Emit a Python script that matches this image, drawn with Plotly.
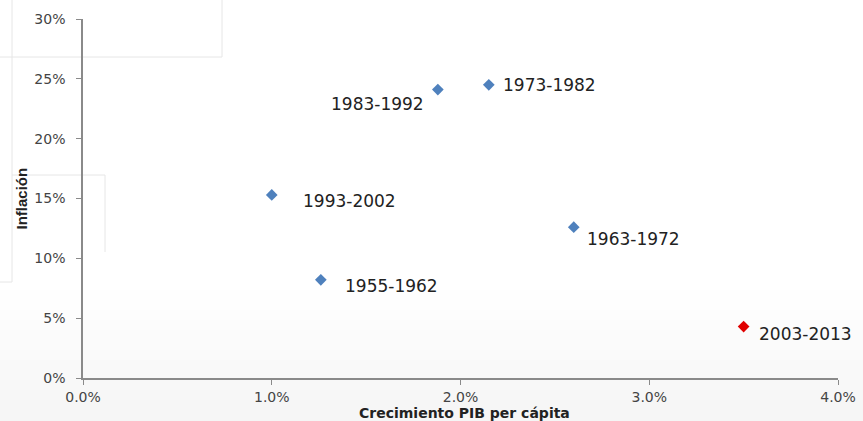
import plotly.graph_objects as go

# Per-capita GDP growth vs inflation by period (percent)
periods = ["1955-1962", "1963-1972", "1973-1982", "1983-1992", "1993-2002", "2003-2013"]
growth = [1.26, 2.60, 2.15, 1.88, 1.00, 3.50]
inflation = [8.2, 12.6, 24.5, 24.1, 15.3, 4.3]
point_colors = ["#4f81bd", "#4f81bd", "#4f81bd", "#4f81bd", "#4f81bd", "#e00000"]

x_ticks = [0, 1, 2, 3, 4]
x_tick_labels = ["0.0%", "1.0%", "2.0%", "3.0%", "4.0%"]
y_ticks = [0, 5, 10, 15, 20, 25, 30]
y_tick_labels = ["0%", "5%", "10%", "15%", "20%", "25%", "30%"]

# label placement relative to each marker (anchor, px shift x, px shift y)
label_pos = {
    "1955-1962": ("left", 22, -6),
    "1963-1972": ("left", 11, -12),
    "1973-1982": ("left", 12, 0),
    "1983-1992": ("right", -12, -14),
    "1993-2002": ("left", 29, -6),
    "2003-2013": ("left", 13, -7),
}

W, H = 863, 421
ML, MR, MT, MB = 83, 25, 19, 43
PW, PH = W - ML - MR, H - MT - MB


def px_x(p):
    return (p - ML) / PW


def px_y(p):
    return (H - MB - p) / PH


fig = go.Figure()
fig.add_trace(go.Scatter(
    x=growth, y=inflation, mode="markers",
    marker=dict(symbol="diamond", size=9, color=point_colors, line=dict(width=0)),
    hoverinfo="skip", showlegend=False,
))

annotations = []
for name, gx, iy in zip(periods, growth, inflation):
    anchor, dx, dy = label_pos[name]
    annotations.append(dict(
        x=gx, y=iy, xref="x", yref="y", text=name, showarrow=False,
        xanchor=anchor, yanchor="middle", xshift=dx, yshift=dy,
        font=dict(family="DejaVu Sans", size=17, color="#222222"),
    ))

annotations.append(dict(
    x=0.5, y=0, xref="paper", yref="paper", text="<b>Crecimiento PIB per cápita</b>",
    showarrow=False, xanchor="center", yanchor="middle", xshift=4, yshift=-35,
    font=dict(family="DejaVu Sans", size=14, color="#222222"),
))
annotations.append(dict(
    x=0, y=0.5, xref="paper", yref="paper", text="<b>Inflación</b>", textangle=-90,
    showarrow=False, xanchor="center", yanchor="middle", xshift=-62,
    font=dict(family="Liberation Sans Narrow, Liberation Sans", size=15, color="#222222"),
))

# faint slide frame lines and soft bottom shading
frame = "#e6e6e6"
shapes = []
band_edges = list(range(290, 421, 10)) + [421]
for i in range(len(band_edges) - 1):
    level = 255 - round(10 * (i + 1) / (len(band_edges) - 1))
    c = f"rgb({level},{level},{level})"
    shapes.append(dict(type="rect", xref="paper", yref="paper", layer="below",
                       x0=px_x(0), x1=px_x(W), y0=px_y(band_edges[i + 1]), y1=px_y(band_edges[i]),
                       fillcolor=c, line=dict(width=0)))
for (xa, ya, xb, yb) in [(0, 57, 222, 57), (222, 0, 222, 57), (12, 0, 12, 282),
                         (0, 282, 12, 282), (12, 175, 105, 175), (105, 175, 105, 252)]:
    shapes.append(dict(type="line", xref="paper", yref="paper", layer="below",
                       x0=px_x(xa), y0=px_y(ya), x1=px_x(xb), y1=px_y(yb),
                       line=dict(color=frame, width=1)))

axis_common = dict(
    showgrid=False, zeroline=False, showline=True, linecolor="#8a8a8a", linewidth=1.5,
    ticks="outside", ticklen=5, tickwidth=1, tickcolor="#8a8a8a", automargin=False,
    tickfont=dict(family="DejaVu Sans", size=14, color="#444444"),
)

fig.update_layout(
    width=W, height=H,
    margin=dict(l=ML, r=MR, t=MT, b=MB, autoexpand=False),
    paper_bgcolor="white", plot_bgcolor="rgba(0,0,0,0)",
    xaxis=dict(range=[0, 4], tickmode="array", tickvals=x_ticks, ticktext=x_tick_labels,
               ticklabelstandoff=0, **axis_common),
    yaxis=dict(range=[0, 30], tickmode="array", tickvals=y_ticks, ticktext=y_tick_labels,
               ticklabelstandoff=8, **axis_common),
    annotations=annotations, shapes=shapes,
)

fig.write_html("out.html")
